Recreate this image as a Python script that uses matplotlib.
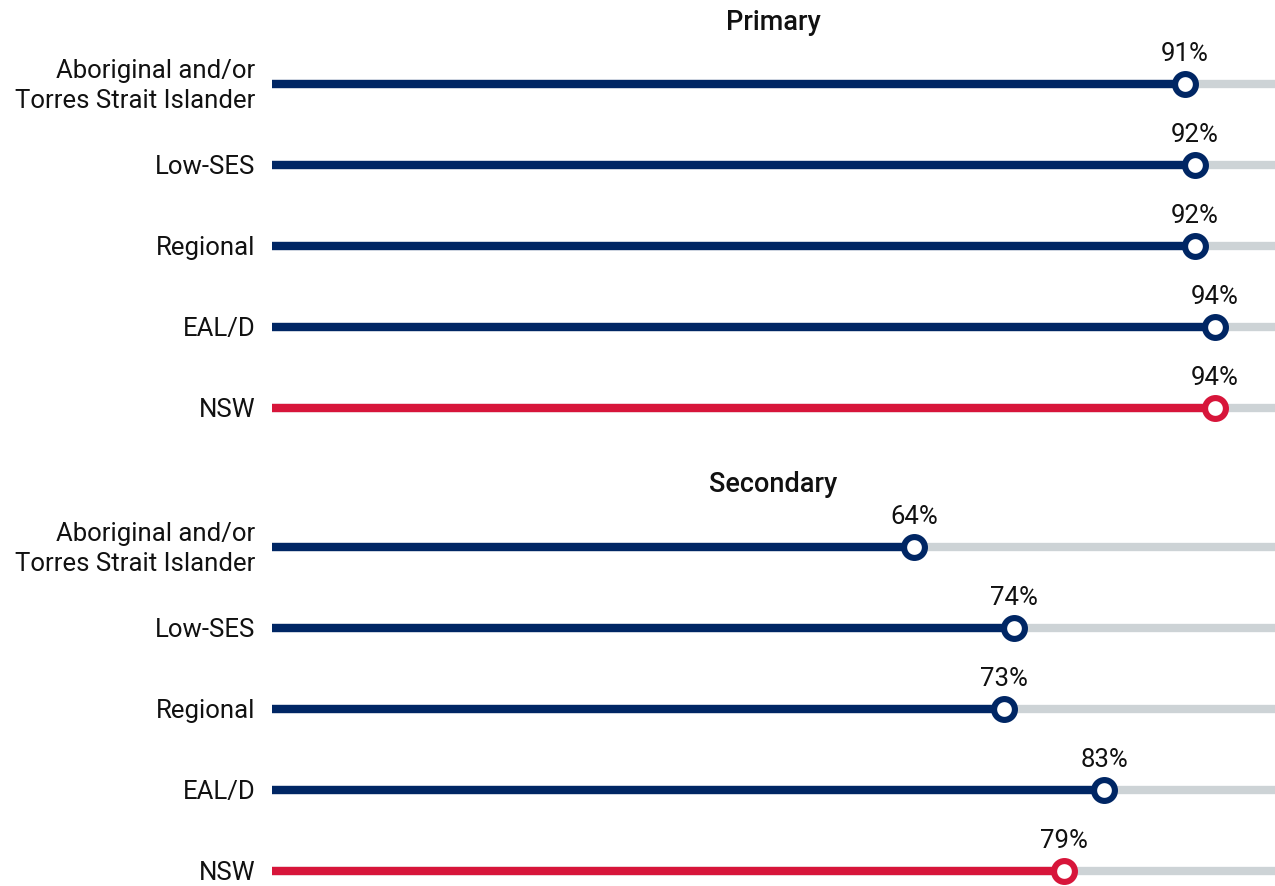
import matplotlib.pyplot as plt

# data
groups = ["Aboriginal and/or\nTorres Strait Islander", "Low-SES", "Regional", "EAL/D", "NSW"]
primary = [91, 92, 92, 94, 94]
secondary = [64, 74, 73, 83, 79]
panel_titles = ["Primary", "Secondary"]

navy = "#002664"
red = "#D7153A"
grey = "#CDD3D6"

plt.rcParams['font.family'] = ['Roboto', 'DejaVu Sans']

W, H = 1275, 886
fig = plt.figure(figsize=(W / 100, H / 100), dpi=100)

left_px = 272
row_gap = 81


def add_panel(values, title, first_row_px, title_px):
    top = first_row_px - row_gap / 2
    height = row_gap * len(values)
    ax = fig.add_axes([left_px / W, 1 - (top + height) / H, (W - left_px) / W, height / H])
    ax.set_xlim(0, 100)
    ax.set_ylim(len(values) - 0.5, -0.5)
    ax.axis("off")
    for i, (name, v) in enumerate(zip(groups, values)):
        c = red if name == "NSW" else navy
        ax.plot([0, 100], [i, i], color=grey, lw=6, solid_capstyle="butt", clip_on=False, zorder=1)
        ax.plot([0, v], [i, i], color=c, lw=6, solid_capstyle="butt", clip_on=False, zorder=2)
        ax.plot([v], [i], marker="o", ms=15, mfc="white", mec=c, mew=4.4, clip_on=False, zorder=3)
        ax.annotate(f"{v}%", (v, i), xytext=(0, 21.5), textcoords="offset points",
                    ha="center", va="center", fontsize=18.5, color="#111111")
        ax.annotate(name, (0, i), xytext=(-12, -1.5), textcoords="offset points",
                    ha="right", va="center", fontsize=18.5, color="#111111", linespacing=1.3)
    fig.text((left_px + W) / 2 / W, 1 - title_px / H, title, ha="center", va="center",
             fontsize=19.5, fontweight="medium", color="#111111")
    return ax


add_panel(primary, panel_titles[0], 84, 22)
add_panel(secondary, panel_titles[1], 547, 485)

fig.savefig("out.png", dpi=100, facecolor="white")
